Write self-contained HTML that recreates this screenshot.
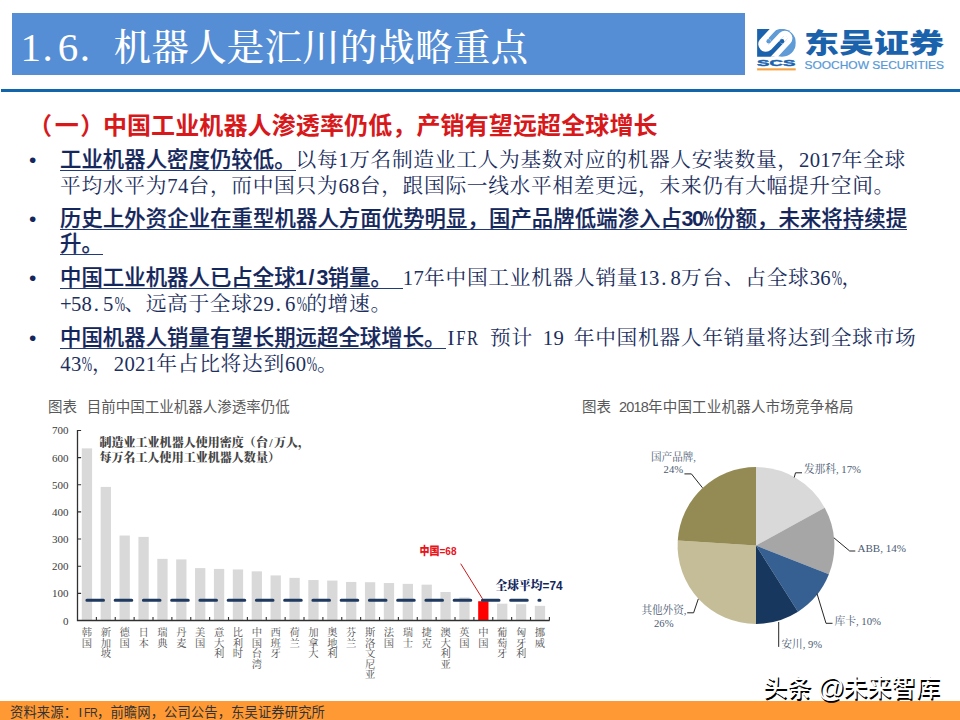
<!DOCTYPE html>
<html lang="zh-CN">
<head>
<meta charset="utf-8">
<title>1.6. 机器人是汇川的战略重点</title>
<style>
*{margin:0;padding:0;box-sizing:border-box}
html,body{width:960px;height:720px;background:#fff;overflow:hidden}
#page{position:absolute;left:0;top:0;width:960px;height:720px}
body{position:relative;font-family:"Liberation Sans","Noto Sans CJK SC",sans-serif}
.abs{position:absolute;white-space:nowrap}
#band{left:12.2px;top:12.8px;width:732.5px;height:61.8px;background:#558ed5}
#title{font-weight:500;left:20.5px;top:22px;height:50px;line-height:50px;font-size:37.33px;letter-spacing:.36px;color:#fff;font-family:"Liberation Serif","Noto Serif CJK SC",serif}
#title i.h{width:18.67px;font-size:41px;letter-spacing:0}
#rule{left:1.4px;top:88.8px;width:958.6px;height:3.5px;background:#1166ab}
#h1{left:30.5px;top:110px;letter-spacing:.12px;height:32px;line-height:32px;font-size:24px;font-weight:700;color:#d7191c}
.ln{left:60px;height:26px;line-height:26px;font-size:20.7px;letter-spacing:.723px;color:#1c2f5e;font-family:"Liberation Serif","Noto Serif CJK SC",serif}
.ln b{font-size:21.333px;letter-spacing:.09px;font-family:"Liberation Sans","Noto Sans CJK SC",sans-serif;font-weight:500;-webkit-text-stroke:.22px #14275c;color:#14275c;background:linear-gradient(#223a78,#223a78) left 0 bottom 0.9px / 100% 1.25px no-repeat}
i{font-style:normal}
i.h{display:inline-block;width:.5em;text-align:center;letter-spacing:0}
.ln i.h{width:10.71px}
i.h.p{transform:scaleX(.6);text-indent:-.12em}
i.h.u{transform:scaleX(.8);text-indent:-.06em}
i.h.d{text-align:left;padding-left:.08em}
b i.h{font-weight:700;-webkit-text-stroke:0;text-indent:-.03em}
b i.h.p{transform:scaleX(.6);text-indent:-.2em}
.bul{left:29px;width:10px;height:26px;line-height:26px;font-size:21px;color:#14275c;font-family:"Liberation Sans",sans-serif}
.ct{font-size:14.5px;color:#595959;height:18px;line-height:18px;margin-top:1px}
.note{left:99.4px;letter-spacing:.04px;font-size:12px;font-weight:900;color:#454545;font-family:"Liberation Serif","Noto Serif CJK SC",serif;height:15px;line-height:15px}
#foot{left:0;top:701px;width:960px;height:19px;background:#ff9933}
#src{left:10px;top:703.5px;letter-spacing:.08px;height:18px;line-height:18px;font-size:13.33px;color:#333}
#wm{left:763px;top:669.5px;letter-spacing:.2px;height:34px;line-height:34px;font-size:24px;color:#fff;text-shadow:1.2px 1.8px .5px #000;font-weight:500}
svg text{white-space:pre}
</style>
</head>
<body>
<div id="band" class="abs"></div>
<div id="title" class="abs"><i class="h">1</i><i class="h d">.</i><i class="h">6</i><i class="h d">.</i><i class="h">&nbsp;</i>机器人是汇川的战略重点</div>
<div id="rule" class="abs"></div>
<svg class="abs" style="left:750px;top:20px" width="205" height="60" viewBox="750 20 205 60">
<defs>
<clipPath id="lr"><rect x="95" y="93" width="515" height="369"/></clipPath>
<clipPath id="lc"><circle cx="425" cy="278" r="187"/></clipPath>
</defs>
<g transform="translate(750,22) scale(0.075)">
<g clip-path="url(#lr)">
<path d="M363.5 37 L159.5 256 A65 65 0 0 0 254.5 344 L421.5 168 A65 65 0 0 1 516.5 256 L292 497 L292 700 L-100 700 L-100 -100 L363.5 -100 Z" fill="#1a62ac"/>
<g clip-path="url(#lc)"><path d="M363.5 37 L159.5 256 A65 65 0 0 0 254.5 344 L421.5 168 A65 65 0 0 1 516.5 256 L292 497 L292 700 L900 700 L900 -100 L363.5 -100 Z" fill="#5f9bd6"/></g>
<path d="M363.5 37 L159.5 256 A65 65 0 0 0 254.5 344 L421.5 168 A65 65 0 0 1 516.5 256 L292 497" fill="none" stroke="#fff" stroke-width="71" stroke-linejoin="round"/>
<path d="M207 300 L248.5 255.5 M469 212 L427.5 256.5" fill="none" stroke="#fff" stroke-width="62" stroke-linecap="round"/>
<circle cx="248.5" cy="255.5" r="29.5" fill="#5f9bd6"/>
<circle cx="427.5" cy="256.5" r="29.5" fill="#1a62ac"/>
</g>
</g>
<text x="776.2" y="65.7" font-family="Liberation Sans, sans-serif" font-weight="700" font-size="9.4" fill="#1a62ac" stroke="#1a62ac" stroke-width=".45" text-anchor="middle" textLength="38.2" lengthAdjust="spacingAndGlyphs">SCS</text>
<rect x="757.1" y="68.3" width="38.6" height="2.1" fill="#f5a243"/>
<text x="804" y="53.1" font-family="Liberation Sans, Noto Sans CJK SC, sans-serif" font-weight="900" font-size="27.6" fill="#1a62ac" textLength="140" lengthAdjust="spacingAndGlyphs">东吴证券</text>
<text x="804.5" y="69.3" font-family="Liberation Sans, sans-serif" font-size="11.4" fill="#5598d6" stroke="#5598d6" stroke-width=".2" textLength="139.5" lengthAdjust="spacingAndGlyphs">SOOCHOW SECURITIES</text>
</svg>
<div id="h1" class="abs"><span style="position:relative;left:-2.5px">（</span>一<span style="position:relative;left:1.5px">）</span>中国工业机器人渗透率仍低，产销有望远超全球增长</div>
<div class="abs bul" style="top:147px">•</div>
<div class="abs ln" style="top:147px"><b>工业机器人密度仍较低。</b>以每<i class="h">1</i>万名制造业工人为基数对应的机器人安装数量，<i class="h">2</i><i class="h">0</i><i class="h">1</i><i class="h">7</i>年全球</div>
<div class="abs ln" style="top:173px">平均水平为<i class="h">7</i><i class="h">4</i>台，而中国只为<i class="h">6</i><i class="h">8</i>台，跟国际一线水平相差更远，未来仍有大幅提升空间。</div>
<div class="abs bul" style="top:206px">•</div>
<div class="abs ln" style="top:206px"><b style="letter-spacing:.12px">历史上外资企业在重型机器人方面优势明显，国产品牌低端渗入占<i class="h">3</i><i class="h">0</i><i class="h p">%</i>份额，未来将持续提</b></div>
<div class="abs ln" style="top:231px"><b>升。</b></div>
<div class="abs bul" style="top:265px">•</div>
<div class="abs ln" style="top:265px"><b>中国工业机器人已占全球<i class="h">1</i><i class="h">/</i><i class="h">3</i>销量。<i class="h">&nbsp;</i></b><i class="h">1</i><i class="h">7</i>年中国工业机器人销量<i class="h">1</i><i class="h">3</i><i class="h d">.</i><i class="h">8</i>万台、占全球<i class="h">3</i><i class="h">6</i><i class="h p">%</i>，</div>
<div class="abs ln" style="top:291px"><i class="h">+</i><i class="h">5</i><i class="h">8</i><i class="h d">.</i><i class="h">5</i><i class="h p">%</i>、远高于全球<i class="h">2</i><i class="h">9</i><i class="h d">.</i><i class="h">6</i><i class="h p">%</i>的增速。</div>
<div class="abs bul" style="top:325px">•</div>
<div class="abs ln" style="top:325px"><b>中国机器人销量有望长期远超全球增长。</b><i class="h">I</i><i class="h u">F</i><i class="h u">R</i><i class="h" style="width:.6em">&nbsp;</i>预计<i class="h" style="width:.47em">&nbsp;</i><i class="h">1</i><i class="h">9</i><i class="h" style="width:.47em">&nbsp;</i>年中国机器人年销量将达到全球市场</div>
<div class="abs ln" style="top:351px"><i class="h">4</i><i class="h">3</i><i class="h p">%</i>，<i class="h">2</i><i class="h">0</i><i class="h">2</i><i class="h">1</i>年占比将达到<i class="h">6</i><i class="h">0</i><i class="h p">%</i>。</div>
<div class="abs ct" style="left:48px;top:397px;word-spacing:5.67px">图表 目前中国工业机器人渗透率仍低</div>
<div class="abs ct" style="left:582px;top:397px;word-spacing:3.97px">图表 <i class="h">2</i><i class="h">0</i><i class="h">1</i><i class="h">8</i><span style="letter-spacing:.2px">年中国工业机器人市场竞争格局</span></div>
<div class="abs note" style="top:436.3px">制造业工业机器人使用密度（台<i class="h">/</i>万人，</div>
<div class="abs note" style="top:451.3px">每万名工人使用工业机器人数量）</div>
<svg class="abs" style="left:0;top:420px" width="580" height="280" viewBox="0 420 580 280">
<g fill="#d9d9d9">
<rect x="81.79" y="448.37" width="10.3" height="172.13"/>
<rect x="100.66" y="486.92" width="10.3" height="133.58"/>
<rect x="119.54" y="535.52" width="10.3" height="84.98"/>
<rect x="138.42" y="536.88" width="10.3" height="83.62"/>
<rect x="157.29" y="558.87" width="10.3" height="61.63"/>
<rect x="176.17" y="559.41" width="10.3" height="61.09"/>
<rect x="195.04" y="568.10" width="10.3" height="52.40"/>
<rect x="213.92" y="568.91" width="10.3" height="51.59"/>
<rect x="232.80" y="569.46" width="10.3" height="51.04"/>
<rect x="251.67" y="571.36" width="10.3" height="49.14"/>
<rect x="270.55" y="575.43" width="10.3" height="45.07"/>
<rect x="289.42" y="577.87" width="10.3" height="42.63"/>
<rect x="308.30" y="580.05" width="10.3" height="40.45"/>
<rect x="327.18" y="580.59" width="10.3" height="39.91"/>
<rect x="346.05" y="581.95" width="10.3" height="38.55"/>
<rect x="364.93" y="582.22" width="10.3" height="38.28"/>
<rect x="383.80" y="583.03" width="10.3" height="37.47"/>
<rect x="402.68" y="583.85" width="10.3" height="36.65"/>
<rect x="421.56" y="584.66" width="10.3" height="35.84"/>
<rect x="440.43" y="591.99" width="10.3" height="28.51"/>
<rect x="459.31" y="597.42" width="10.3" height="23.08"/>
<rect x="478.18" y="601.22" width="10.3" height="19.28" fill="#ff0000"/>
<rect x="497.06" y="603.67" width="10.3" height="16.83"/>
<rect x="515.94" y="604.21" width="10.3" height="16.29"/>
<rect x="534.81" y="605.84" width="10.3" height="14.66"/>
</g>
<g stroke="#303030" stroke-width="1.3" fill="none">
<path d="M77.50 430 V620.50 H549.6"/>
<path d="M77.50 620.50 h3.6M77.50 593.35 h3.6M77.50 566.20 h3.6M77.50 539.05 h3.6M77.50 511.90 h3.6M77.50 484.75 h3.6M77.50 457.60 h3.6M77.50 430.45 h3.6M96.38 620.50 v-3.4M115.25 620.50 v-3.4M134.13 620.50 v-3.4M153.00 620.50 v-3.4M171.88 620.50 v-3.4M190.76 620.50 v-3.4M209.63 620.50 v-3.4M228.51 620.50 v-3.4M247.38 620.50 v-3.4M266.26 620.50 v-3.4M285.14 620.50 v-3.4M304.01 620.50 v-3.4M322.89 620.50 v-3.4M341.76 620.50 v-3.4M360.64 620.50 v-3.4M379.52 620.50 v-3.4M398.39 620.50 v-3.4M417.27 620.50 v-3.4M436.14 620.50 v-3.4M455.02 620.50 v-3.4M473.90 620.50 v-3.4M492.77 620.50 v-3.4M511.65 620.50 v-3.4M530.52 620.50 v-3.4M549.40 620.50 v-3.4" stroke-width="1.1"/>
</g>
<g font-family="Liberation Serif, serif" font-size="11" fill="#3a3a3a" text-anchor="end">
<text x="68.6" y="624.50">0</text>
<text x="68.6" y="597.35">100</text>
<text x="68.6" y="570.20">200</text>
<text x="68.6" y="543.05">300</text>
<text x="68.6" y="515.90">400</text>
<text x="68.6" y="488.75">500</text>
<text x="68.6" y="461.60">600</text>
<text x="68.6" y="434.45">700</text>
</g>
<path d="M86.9 600.3 H540" stroke="#1f3a60" stroke-width="3" stroke-linecap="round" stroke-dasharray="16.6 11.65" fill="none"/>
<path d="M460.7 563.7 L482.5 598.8" stroke="#c00000" stroke-width="0.9" fill="none"/>
<text x="419.5" y="555.4" font-family="Liberation Sans, Noto Sans CJK SC, sans-serif" font-weight="900" font-size="11.6" fill="#e8141c" textLength="37" lengthAdjust="spacingAndGlyphs">中国=68</text>
<text x="495.5" y="590.3" font-family="Liberation Sans, Noto Serif CJK SC, sans-serif" font-weight="900" font-size="12.2" fill="#13265c" textLength="67" lengthAdjust="spacingAndGlyphs">全球平均=74</text>
<g font-family="Liberation Serif, Noto Serif CJK SC, serif" font-size="10.3" fill="#4d4d4d" text-anchor="middle">
<text><tspan x="86.94" y="636.20">韩</tspan><tspan x="86.94" y="646.70">国</tspan></text>
<text><tspan x="105.81" y="636.20">新</tspan><tspan x="105.81" y="646.70">加</tspan><tspan x="105.81" y="657.20">坡</tspan></text>
<text><tspan x="124.69" y="636.20">德</tspan><tspan x="124.69" y="646.70">国</tspan></text>
<text><tspan x="143.57" y="636.20">日</tspan><tspan x="143.57" y="646.70">本</tspan></text>
<text><tspan x="162.44" y="636.20">瑞</tspan><tspan x="162.44" y="646.70">典</tspan></text>
<text><tspan x="181.32" y="636.20">丹</tspan><tspan x="181.32" y="646.70">麦</tspan></text>
<text><tspan x="200.19" y="636.20">美</tspan><tspan x="200.19" y="646.70">国</tspan></text>
<text><tspan x="219.07" y="636.20">意</tspan><tspan x="219.07" y="646.70">大</tspan><tspan x="219.07" y="657.20">利</tspan></text>
<text><tspan x="237.95" y="636.20">比</tspan><tspan x="237.95" y="646.70">利</tspan><tspan x="237.95" y="657.20">时</tspan></text>
<text><tspan x="256.82" y="636.20">中</tspan><tspan x="256.82" y="646.70">国</tspan><tspan x="256.82" y="657.20">台</tspan><tspan x="256.82" y="667.70">湾</tspan></text>
<text><tspan x="275.70" y="636.20">西</tspan><tspan x="275.70" y="646.70">班</tspan><tspan x="275.70" y="657.20">牙</tspan></text>
<text><tspan x="294.57" y="636.20">荷</tspan><tspan x="294.57" y="646.70">兰</tspan></text>
<text><tspan x="313.45" y="636.20">加</tspan><tspan x="313.45" y="646.70">拿</tspan><tspan x="313.45" y="657.20">大</tspan></text>
<text><tspan x="332.33" y="636.20">奥</tspan><tspan x="332.33" y="646.70">地</tspan><tspan x="332.33" y="657.20">利</tspan></text>
<text><tspan x="351.20" y="636.20">芬</tspan><tspan x="351.20" y="646.70">兰</tspan></text>
<text><tspan x="370.08" y="636.20">斯</tspan><tspan x="370.08" y="646.70">洛</tspan><tspan x="370.08" y="657.20">文</tspan><tspan x="370.08" y="667.70">尼</tspan><tspan x="370.08" y="678.20">亚</tspan></text>
<text><tspan x="388.95" y="636.20">法</tspan><tspan x="388.95" y="646.70">国</tspan></text>
<text><tspan x="407.83" y="636.20">瑞</tspan><tspan x="407.83" y="646.70">士</tspan></text>
<text><tspan x="426.71" y="636.20">捷</tspan><tspan x="426.71" y="646.70">克</tspan></text>
<text><tspan x="445.58" y="636.20">澳</tspan><tspan x="445.58" y="646.70">大</tspan><tspan x="445.58" y="657.20">利</tspan><tspan x="445.58" y="667.70">亚</tspan></text>
<text><tspan x="464.46" y="636.20">英</tspan><tspan x="464.46" y="646.70">国</tspan></text>
<text><tspan x="483.33" y="636.20">中</tspan><tspan x="483.33" y="646.70">国</tspan></text>
<text><tspan x="502.21" y="636.20">葡</tspan><tspan x="502.21" y="646.70">萄</tspan><tspan x="502.21" y="657.20">牙</tspan></text>
<text><tspan x="521.09" y="636.20">匈</tspan><tspan x="521.09" y="646.70">牙</tspan><tspan x="521.09" y="657.20">利</tspan></text>
<text><tspan x="539.96" y="636.20">挪</tspan><tspan x="539.96" y="646.70">威</tspan></text>
</g>
</svg>
<svg class="abs" style="left:620px;top:440px" width="340" height="225" viewBox="620 440 340 225">
<path d="M756.00 545.50 L756.00 467.10 A78.40 78.40 0 0 1 824.70 507.73 Z" fill="#d9d9d9"/>
<path d="M756.00 545.50 L824.70 507.73 A78.40 78.40 0 0 1 828.89 574.36 Z" fill="#a6a6a6"/>
<path d="M756.00 545.50 L828.89 574.36 A78.40 78.40 0 0 1 798.01 611.70 Z" fill="#366092"/>
<path d="M756.00 545.50 L798.01 611.70 A78.40 78.40 0 0 1 756.00 623.90 Z" fill="#17375e"/>
<path d="M756.00 545.50 L756.00 623.90 A78.40 78.40 0 0 1 677.75 540.58 Z" fill="#c4bd97"/>
<path d="M756.00 545.50 L677.75 540.58 A78.40 78.40 0 0 1 756.00 467.10 Z" fill="#948a54"/>
<g stroke="#262626" stroke-width="1" fill="none">
<path d="M684.4 473.9 H691.4 L702.5 487.8"/>
<path d="M802 472.8 H795.5 L794.2 477.5"/>
<path d="M855.3 551 H849.7 L833.9 537.8"/>
<path d="M832.5 623.3 H826 L817 593.6"/>
<path d="M778.7 622 V646.9"/>
<path d="M687.2 612.8 H693.6 L698.3 598.9"/>
</g>
<g font-family="Liberation Serif, Noto Serif CJK SC, serif" font-size="10.8" fill="#4a5a72">
<text x="651" y="460.6" textLength="45" lengthAdjust="spacingAndGlyphs">国产品牌,</text>
<text x="663.6" y="472.8" textLength="19.5" lengthAdjust="spacingAndGlyphs">24%</text>
<text x="803.9" y="473.3" textLength="57" lengthAdjust="spacingAndGlyphs">发那科, 17%</text>
<text x="857.5" y="552.1" textLength="48.5" lengthAdjust="spacingAndGlyphs">ABB, 14%</text>
<text x="834.4" y="625.2" textLength="46.6" lengthAdjust="spacingAndGlyphs">库卡, 10%</text>
<text x="781.5" y="647.8" textLength="40.5" lengthAdjust="spacingAndGlyphs">安川, 9%</text>
<text x="641.4" y="613.7" textLength="45" lengthAdjust="spacingAndGlyphs">其他外资,</text>
<text x="654" y="627.1" textLength="19.5" lengthAdjust="spacingAndGlyphs">26%</text>
</g>
</svg>
<div id="foot" class="abs"></div>
<div id="src" class="abs">资料来源：<i class="h">I</i><i class="h u">F</i><i class="h u">R</i>，前瞻网，公司公告，东吴证券研究所</div>
<div id="wm" class="abs">头条 <span style="font-size:27px;letter-spacing:-1.5px;position:relative;top:1px;margin-left:-1px">@</span>未来智库</div>
</body>
</html>
